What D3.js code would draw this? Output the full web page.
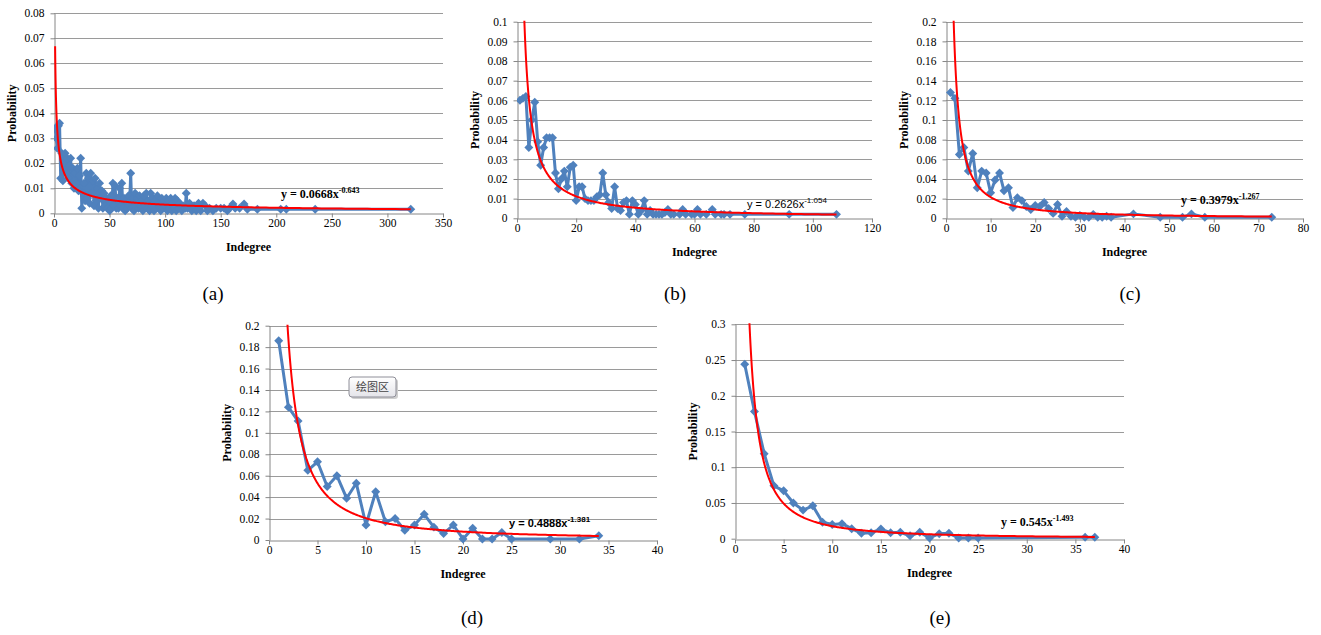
<!DOCTYPE html>
<html lang="en">
<head>
    <meta charset="UTF-8">
    <title>Indegree distributions</title>
    <script src="https://cdnjs.cloudflare.com/ajax/libs/d3/7.8.5/d3.min.js"></script>
    <style>
        body { margin: 0; background: #ffffff; }
        .axis path, .axis line { stroke: #868686; }
    </style>
</head>
<body>
    <script>
        // (a) indegree / probability
        var degA = [1,2,3,4,5,6,7,8,9,10,11,12,13,14,15,16,17,18,19,20,21,22,23,24,25,26,27,28,29,30,
            31,32,33,34,35,36,37,38,39,40,41,42,43,44,45,46,47,48,49,50,51,52,53,54,55,56,57,58,59,60,
            61,62,63,64,65,66,67,68,69,70,71,72,73,74,75,76,77,78,79,80,81,82,83,84,85,86,87,88,89,90,
            91,92,93,94,95,96,97,98,99,100,101,102,103,104,105,106,107,108,109,110,111,112,113,115,116,
            118,119,120,122,124,126,128,130,132,134,136,138,140,143,146,150,153,156,158,161,163,167,171,
            174,183,204,209,235,321];
        var probA = [0.034,0.030,0.026,0.035,0.036,0.014,0.024,0.013,0.020,0.024,0.016,0.022,0.014,0.019,0.022,
            0.012,0.018,0.010,0.016,0.012,0.018,0.009,0.015,0.022,0.002,0.008,0.012,0.005,0.016,0.006,
            0.014,0.004,0.016,0.008,0.013,0.003,0.014,0.005,0.010,0.002,0.012,0.006,0.009,0.002,0.008,
            0.003,0.006,0.002,0.005,0.001,0.007,0.002,0.012,0.003,0.011,0.002,0.006,0.002,0.010,0.003,
            0.012,0.002,0.006,0.001,0.005,0.002,0.007,0.003,0.016,0.002,0.006,0.001,0.008,0.003,0.006,
            0.002,0.007,0.003,0.005,0.001,0.007,0.003,0.008,0.002,0.005,0.001,0.008,0.003,0.006,0.001,
            0.005,0.002,0.007,0.003,0.004,0.001,0.006,0.002,0.005,0.003,0.006,0.001,0.005,0.002,0.006,
            0.001,0.004,0.002,0.006,0.001,0.005,0.002,0.004,0.001,0.003,0.002,0.008,0.002,0.004,0.001,
            0.003,0.001,0.004,0.001,0.004,0.003,0.001,0.002,0.001,0.002,0.002,0.002,0.001,0.002,0.0037,
            0.002,0.002,0.0037,0.0016,0.0016,0.0016,0.0016,0.0016,0.0016];

        // (b)
        var degB = [1,2,3,4,5,6,7,8,9,10,11,12,13,14,15,16,17,18,19,20,21,22,23,24,25,26,27,28,29,30,
            31,32,33,34,35,36,37,38,39,40,41,42,43,44,45,46,47,48,49,50,51,52,53,55,56,57,59,60,61,62,
            64,66,67,69,70,72,77,92,108];
        var probB = [0.060,0.061,0.062,0.036,0.050,0.059,0.039,0.027,0.036,0.041,0.041,0.041,0.023,0.015,0.020,
            0.024,0.016,0.026,0.027,0.009,0.016,0.016,0.010,0.009,0.009,0.009,0.011,0.012,0.023,0.012,
            0.008,0.005,0.016,0.005,0.004,0.008,0.009,0.002,0.009,0.007,0.002,0.004,0.009,0.002,0.004,
            0.002,0.002,0.002,0.002,0.003,0.0045,0.002,0.002,0.002,0.0045,0.002,0.002,0.002,0.0045,0.002,
            0.002,0.0045,0.002,0.002,0.002,0.002,0.002,0.002,0.002];

        // (c)
        var degC = [1,2,3,4,5,6,7,8,9,10,11,12,13,14,15,16,17,18,19,20,21,22,23,24,25,26,27,28,29,30,
            31,32,33,34,35,36,37,42,48,53,55,58,73];
        var probC = [0.128,0.122,0.065,0.072,0.048,0.066,0.031,0.048,0.046,0.026,0.039,0.046,0.028,0.031,0.011,
            0.021,0.018,0.012,0.009,0.013,0.012,0.016,0.010,0.005,0.014,0.002,0.007,0.002,0.001,0.003,
            0.001,0.001,0.004,0.001,0.001,0.002,0.001,0.0045,0.001,0.001,0.0045,0.001,0.001];

        // (d)
        var degD = [1,2,3,4,5,6,7,8,9,10,11,12,13,14,15,16,17,18,19,20,21,22,23,24,25,29,32,34];
        var probD = [0.186,0.124,0.111,0.065,0.073,0.050,0.060,0.039,0.053,0.014,0.045,0.017,0.020,0.009,0.014,
            0.024,0.012,0.006,0.014,0.001,0.011,0.001,0.001,0.007,0.001,0.001,0.001,0.004];

        // (e)
        var degE = [1,2,3,4,5,6,7,8,9,10,11,12,13,14,15,16,17,18,19,20,21,22,23,24,25,36,37];
        var probE = [0.244,0.178,0.119,0.074,0.067,0.050,0.040,0.046,0.023,0.020,0.021,0.014,0.0075,0.0084,0.0135,
            0.0084,0.009,0.004,0.009,0.001,0.007,0.0075,0.001,0.001,0.001,0.002,0.002];

        // power trendline y = a * x^b
        var trendA = [0.0668, 0.2626, 0.3979, 0.4888, 0.545];
        var trendB = [-0.643, -1.054, -1.267, -1.381, -1.493];
        var eqCoef = ["0.0668", "0.2626", "0.3979", "0.4888", "0.545"];
        var eqExp = ["-0.643", "-1.054", "-1.267", "-1.381", "-1.493"];
        var subLabels = ["(a)", "(b)", "(c)", "(d)", "(e)"];

        var xMaxes = [350, 120, 80, 40, 40];
        var xSteps = [50, 20, 10, 5, 5];
        var yMaxes = [0.08, 0.1, 0.2, 0.2, 0.3];
        var ySteps = [0.01, 0.01, 0.02, 0.02, 0.05];

        var degs = [degA, degB, degC, degD, degE];
        var probs = [probA, probB, probC, probD, probE];

        // layout of each panel
        var boxes = [
            {l: 54, r: 443, t: 13.3, b: 213.3, eqX: 281, eqY: 198, eqFont: "serif", eqBold: true, lab: [213, 300]},
            {l: 517, r: 872, t: 21.7, b: 218.3, eqX: 747, eqY: 208, eqFont: "sans", eqBold: false, lab: [675, 300]},
            {l: 946, r: 1303, t: 21.7, b: 218.3, eqX: 1181, eqY: 204, eqFont: "serif", eqBold: true, lab: [1130, 300]},
            {l: 269, r: 657, t: 325.7, b: 540, eqX: 509, eqY: 527, eqFont: "sans", eqBold: true, lab: [472, 624]},
            {l: 735, r: 1124, t: 324.3, b: 538.7, eqX: 1001, eqY: 526, eqFont: "serif", eqBold: true, lab: [940, 624]}
        ];

        var svg = d3.select("body").append("svg")
            .attr("width", 1321)
            .attr("height", 635)
            .style("background-color", "#ffffff");

        boxes.forEach(function(p, i) {
            var x = d3.scaleLinear().domain([0, xMaxes[i]]).range([p.l, p.r]);
            var y = d3.scaleLinear().domain([0, yMaxes[i]]).range([p.b, p.t]);
            var g = svg.append("g");

            var yTicks = d3.range(0, Math.round(yMaxes[i] / ySteps[i]) + 1).map(function(k) { return +(k * ySteps[i]).toFixed(4); });
            var xTicks = d3.range(0, xMaxes[i] + 1, xSteps[i]);

            // horizontal gridlines
            g.selectAll(".grid").data(yTicks.slice(1)).enter().append("line")
                .attr("x1", p.l).attr("x2", p.r)
                .attr("y1", function(d) { return Math.round(y(d)) + 0.5; })
                .attr("y2", function(d) { return Math.round(y(d)) + 0.5; })
                .attr("stroke", "#9a9a9a");

            var ya = g.append("g").attr("class", "axis")
                .attr("transform", "translate(" + (Math.round(p.l) + 0.5) + ",0)")
                .call(d3.axisLeft(y).tickValues(yTicks).tickSize(4).tickSizeOuter(0).tickPadding(6)
                    .tickFormat(function(d) { return String(d); }));

            var xa = g.append("g").attr("class", "axis")
                .attr("transform", "translate(0," + (Math.round(p.b) + 0.5) + ")")
                .call(d3.axisBottom(x).tickValues(xTicks).tickSize(4).tickSizeOuter(0).tickPadding(1)
                    .tickFormat(d3.format("d")));

            [ya, xa].forEach(function(a) {
                a.attr("font-family", "Liberation Serif").attr("font-size", 11.5);
                a.selectAll("text").attr("fill", "#000");
            });

            // axis titles
            g.append("text")
                .attr("transform", "translate(" + (p.l - 38) + "," + ((p.t + p.b) / 2) + ") rotate(-90)")
                .attr("text-anchor", "middle")
                .style("font-family", "Liberation Serif")
                .style("font-weight", "bold")
                .style("font-size", "12px")
                .text("Probability");
            g.append("text")
                .attr("x", (p.l + p.r) / 2)
                .attr("y", p.b + 38)
                .attr("text-anchor", "middle")
                .style("font-family", "Liberation Serif")
                .style("font-weight", "bold")
                .style("font-size", "12px")
                .text("Indegree");

            // clip region for data and trend
            var clipId = "clip" + i;
            svg.append("clipPath").attr("id", clipId).append("rect")
                .attr("x", p.l).attr("y", p.t - 1).attr("width", p.r - p.l + 6).attr("height", p.b - p.t + 6);

            var pts = degs[i].map(function(d, k) { return [d, probs[i][k]]; });
            var line = d3.line().x(function(d) { return x(d[0]); }).y(function(d) { return y(d[1]); });
            var plot = g.append("g").attr("clip-path", "url(#" + clipId + ")");

            plot.append("path")
                .datum(pts)
                .attr("d", line)
                .attr("fill", "none")
                .attr("stroke", "#4F81BD")
                .attr("stroke-width", 3)
                .attr("stroke-linejoin", "round");

            plot.selectAll(".mk").data(pts).enter().append("path")
                .attr("d", d3.symbol(d3.symbolSquare).size(40))
                .attr("transform", function(d) { return "translate(" + x(d[0]) + "," + y(d[1]) + ") rotate(45)"; })
                .attr("fill", "#4F81BD");

            // trendline drawn from the fitted equation over the data range
            var lo = d3.min(degs[i]), hi = d3.max(degs[i]);
            var tx = d3.range(0, 401).map(function(k) { return lo * Math.pow(hi / lo, k / 400); });
            var trend = tx.map(function(v) { return [v, trendA[i] * Math.pow(v, trendB[i])]; });
            plot.append("path")
                .datum(trend)
                .attr("d", line)
                .attr("fill", "none")
                .attr("stroke", "#FF0000")
                .attr("stroke-width", 2);

            // equation label
            var fam = p.eqFont === "serif" ? "Liberation Serif" : "Liberation Sans";
            var eq = g.append("text")
                .attr("x", p.eqX).attr("y", p.eqY)
                .style("font-family", fam)
                .style("font-weight", p.eqBold ? "bold" : "normal")
                .style("font-size", p.eqFont === "serif" ? "12px" : "11px")
                .attr("fill", "#000");
            eq.append("tspan").text("y = " + eqCoef[i] + "x");
            eq.append("tspan").attr("dy", -5).style("font-size", "8px").text(eqExp[i]);

            // sub-figure label
            svg.append("text")
                .attr("x", p.lab[0]).attr("y", p.lab[1])
                .attr("text-anchor", "middle")
                .style("font-family", "Liberation Serif")
                .style("font-size", "19px")
                .text(subLabels[i]);
        });

        // Excel "plot area" tooltip seen in panel (d)
        var tip = svg.append("g").attr("transform", "translate(349,377)");
        var grad = svg.append("defs").append("linearGradient").attr("id", "tipg")
            .attr("x1", 0).attr("y1", 0).attr("x2", 0).attr("y2", 1);
        grad.append("stop").attr("offset", "0%").attr("stop-color", "#ffffff");
        grad.append("stop").attr("offset", "100%").attr("stop-color", "#e4e4e9");
        tip.append("rect").attr("x", 2).attr("y", 2).attr("width", 47).attr("height", 20).attr("rx", 3)
            .attr("fill", "#cfcfcf");
        tip.append("rect").attr("width", 47).attr("height", 20).attr("rx", 3)
            .attr("fill", "url(#tipg)").attr("stroke", "#8e8e98");
        tip.append("text").attr("x", 23.5).attr("y", 14).attr("text-anchor", "middle")
            .style("font-family", "Noto Sans CJK SC")
            .style("font-size", "11px")
            .attr("fill", "#444")
            .text("绘图区");
    </script>
</body>
</html>
